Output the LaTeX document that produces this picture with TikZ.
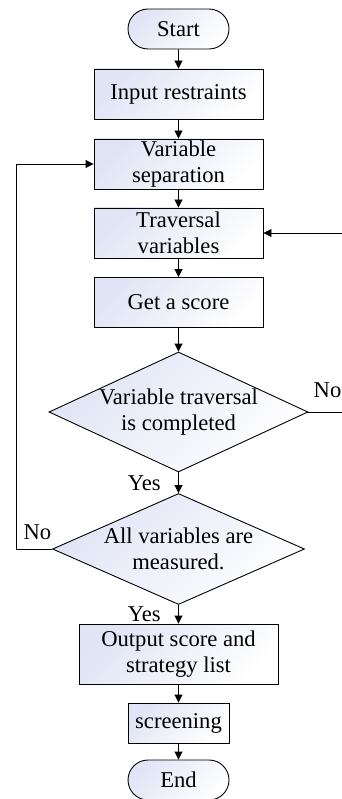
\documentclass[tikz,border=0pt]{standalone}
\usepackage{fontspec}
\setmainfont{Liberation Serif}
\usetikzlibrary{shapes.geometric,shapes.misc,arrows.meta,positioning}
\definecolor{boxtint}{RGB}{224,228,245}
\tikzset{
  base/.style={draw, line width=0.9pt, align=center, font=\fontsize{22.6}{26.5}\selectfont, top color=boxtint, bottom color=white, shading angle=45},
  termbox/.style={base, rounded rectangle, minimum width=101pt, minimum height=40pt, inner sep=0pt},
  procbox/.style={base, rectangle, minimum width=169pt, minimum height=50pt, inner sep=0pt},
  decbox/.style={base, diamond, inner sep=-2pt},
  arrow/.style={-{Triangle[length=8pt,width=8pt]}, line width=0.9pt},
  lbl/.style={font=\fontsize{22.6}{26.5}\selectfont},
}

\begin{document}
\begin{tikzpicture}[x=1pt, y=-1pt]
  \useasboundingbox (0,0) rectangle (342,799);

  % Main column
  \node[termbox] (start) at (178.5,29) {Start};
  \node[procbox] (input) at (178.5,94) {Input restraints};
  \node[procbox] (sep) at (178.5,164) {Variable\\separation};
  \node[procbox] (trav) at (178.5,233) {Traversal\\variables};
  \node[procbox] (score) at (178.5,302.5) {Get a score};
  \node[decbox, aspect=2.16, minimum width=259pt, minimum height=120pt] (done) at (178.5,412) {Variable traversal\\is completed};
  \node[decbox, aspect=2.27, minimum width=252pt, minimum height=111pt] (all) at (178.5,549) {All variables are\\measured.};
  \node[procbox, minimum width=199pt, minimum height=60pt] (out) at (178.5,654) {Output score and\\strategy list};
  \node[procbox, minimum width=101pt, minimum height=40pt] (screen) at (178.5,723) {screening};
  \node[termbox] (end) at (178.5,780) {End};

  % Loop turning points
  \coordinate (loopL) at (16,0);
  \coordinate (loopR) at (344,0);

  % Straight arrows
  \draw[arrow] (start) -- (input);
  \draw[arrow] (input) -- (sep);
  \draw[arrow] (sep) -- (trav);
  \draw[arrow] (trav) -- (score);
  \draw[arrow] (score) -- (done);
  \draw[arrow] (done) -- node[lbl, left, xshift=-14pt] {Yes} (all);
  \draw[arrow] (all) -- node[lbl, left, xshift=-14pt] {Yes} (out);
  \draw[arrow] (out) -- (screen);
  \draw[arrow] (screen) -- (end);

  % Back loops
  \draw[arrow] (done.east) -- node[lbl, pos=0, above right, xshift=1.5pt, yshift=10pt] {No} (done.east -| loopR) |- (trav.east);
  \draw[arrow] (all.west) -- node[lbl, pos=0, above left, xshift=3pt, yshift=6pt] {No} (all.west -| loopL) |- (sep.west);
\end{tikzpicture}
\end{document}
